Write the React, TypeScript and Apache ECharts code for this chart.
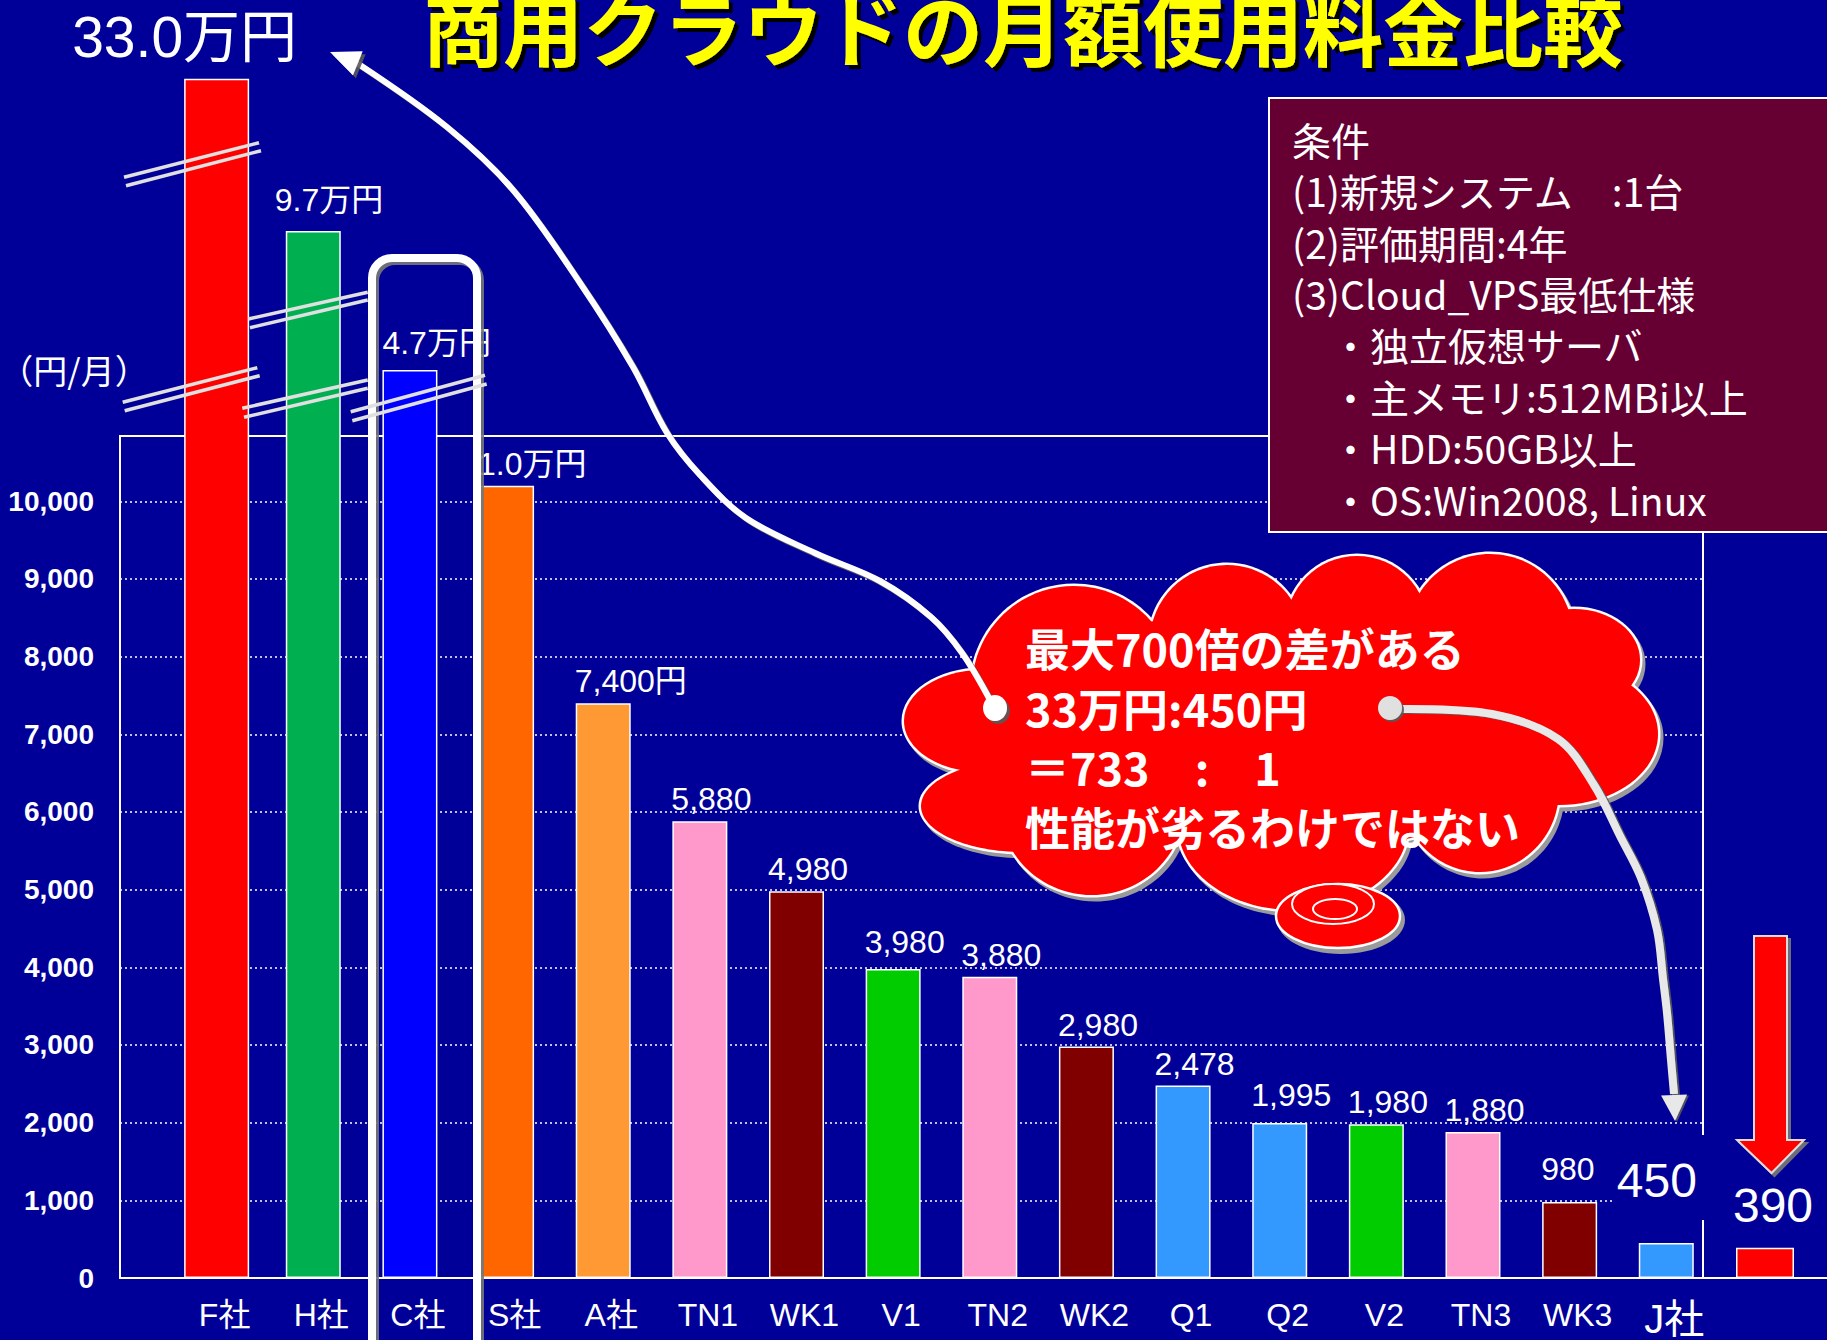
import React, { useEffect, useRef } from 'react';
import * as echarts from 'echarts';

// ---------------- data ----------------
const chartTitle = '商用クラウドの月額使用料金比較';
const categories = ['F社', 'H社', 'C社', 'S社', 'A社', 'TN1', 'WK1', 'V1', 'TN2', 'WK2', 'Q1', 'Q2', 'V2', 'TN3', 'WK3', 'J社'];
const monthlyFeeYen = [330000, 97000, 47000, 10200, 7400, 5880, 4980, 3980, 3880, 2980, 2478, 1995, 1980, 1880, 980, 450];
const valueLabels = ['33.0万円', '9.7万円', '4.7万円', '1.0万円', '7,400円', '5,880', '4,980', '3,980', '3,880', '2,980', '2,478', '1,995', '1,980', '1,880', '980', '450'];
// broken axis: the first three bars are drawn at these heights on the 0-10,000 scale
const brokenBarHeights = [15440, 13480, 11690];
const extraBarValue = 390;
const extraBarLabel = '390';
const yTickValues = [0, 1000, 2000, 3000, 4000, 5000, 6000, 7000, 8000, 9000, 10000];
const yAxisMax = 10841;
const yAxisName = '（円/月）';
const conditionLines = ['条件', '(1)新規システム　:1台', '(2)評価期間:4年', '(3)Cloud_VPS最低仕様', '　・独立仮想サーバ', '　・主メモリ:512MBi以上', '　・HDD:50GB以上', '　・OS:Win2008, Linux'];
const cloudLines = ['最大700倍の差がある', '33万円:450円', '＝733　:　1', '性能が劣るわけではない'];

// ---------------- styles ----------------
const barColors = ['#ff0000', '#00b050', '#0000ff', '#ff6600', '#ff9933', '#ff99cc', '#800000', '#00cc00', '#ff99cc', '#800000', '#3399ff', '#3399ff', '#00cc00', '#ff99cc', '#800000', '#3399ff'];
const extraBarColor = '#ff0000';
const BG = '#000099';
const LATIN = "'Liberation Sans', 'Noto Sans CJK JP', sans-serif";
const CJK = "'Noto Sans CJK JP', sans-serif";

const labelTweaks: Record<number, any> = {
  0: { position: [-112, -13], fontSize: 57 },
  1: { position: [-11, -15] },
  2: { position: [0, -11] },
  7: { position: [-1, -11] },
  11: { position: [-1, -12] },
  14: { position: [-1, -17] },
  15: { position: [-25, -23], fontSize: 48, backgroundColor: BG, padding: [21, 13, 16, 3] },
};

// cloud lobes [cx, cy, rx, ry]
const cloudLobes = [
  [982, 721, 78, 51],
  [1023, 806, 102, 46],
  [1074, 688, 102, 102],
  [1227, 642, 77, 77],
  [1357, 627, 71, 71],
  [1490, 637, 83, 83],
  [1574, 660, 66, 51],
  [1559, 734, 99, 71],
  [1480, 790, 79, 82],
  [1293, 826, 115, 84],
  [1092, 806, 92, 89],
  [1280, 730, 300, 120],
];

function arrowHead(tip: number[], from: number[], len: number, hw: number) {
  const dx = tip[0] - from[0];
  const dy = tip[1] - from[1];
  const L = Math.hypot(dx, dy);
  const ux = dx / L;
  const uy = dy / L;
  const bx = tip[0] - ux * len;
  const by = tip[1] - uy * len;
  return [[tip[0], tip[1]], [bx - uy * hw, by + ux * hw], [bx + uy * hw, by - ux * hw]];
}

function drawnHeight(i: number) {
  return i < brokenBarHeights.length ? brokenBarHeights[i] : monthlyFeeYen[i];
}

function buildGraphics() {
  const g: any[] = [];
  const ell = (cx: number, cy: number, rx: number, ry: number, style: any, z: number) => ({
    type: 'ellipse', z, silent: true, shape: { cx, cy, rx, ry }, style,
  });
  const shadow = { shadowColor: 'rgba(40,40,40,0.85)', shadowOffsetX: 3, shadowOffsetY: 3, shadowBlur: 1 };

  // title with black drop shadow
  g.push({
    type: 'text', z: 31, silent: true,
    style: {
      text: chartTitle, x: 1023, y: 25, fill: '#ffff00', font: `bold 80px ${CJK}`,
      textAlign: 'center', textVerticalAlign: 'middle',
      textShadowColor: '#000000', textShadowOffsetX: 4, textShadowOffsetY: 4, textShadowBlur: 1,
    },
  });

  // y-axis unit
  g.push({ type: 'text', z: 5, silent: true, style: { text: yAxisName, x: 74, y: 369, fill: '#ffffff', font: `34px ${CJK}`, textAlign: 'center', textVerticalAlign: 'middle' } });

  // conditions box
  g.push({ type: 'rect', z: 25, silent: true, shape: { x: 1269, y: 98, width: 600, height: 434 }, style: { fill: '#660033', stroke: '#ffffff', lineWidth: 2 } });
  g.push({
    type: 'text', z: 26, silent: true,
    style: { text: conditionLines.join('\n'), x: 1292, y: 113, fill: '#ffffff', font: `39px ${CJK}`, lineHeight: 51.4, textAlign: 'left', textVerticalAlign: 'top' },
  });

  // cloud: shadow, outline, fill
  cloudLobes.forEach(([cx, cy, rx, ry]) => g.push(ell(cx + 3, cy + 4, rx + 2.5, ry + 2.5, { fill: '#9a9a9a' }, 9)));
  cloudLobes.forEach(([cx, cy, rx, ry]) => g.push(ell(cx, cy, rx + 2.5, ry + 2.5, { fill: '#ffffff' }, 10)));
  cloudLobes.forEach(([cx, cy, rx, ry]) => g.push(ell(cx, cy, rx, ry, { fill: '#ff0000' }, 11)));
  // thought bubble
  g.push(ell(1341, 920, 64, 34, { fill: '#9a9a9a' }, 12));
  g.push(ell(1338, 916, 62, 32, { fill: '#ff0000', stroke: '#ffffff', lineWidth: 2.5 }, 13));
  g.push(ell(1333, 904, 41, 20, { fill: '#ff0000', stroke: '#ffffff', lineWidth: 2 }, 14));
  g.push(ell(1335, 909, 22, 10, { fill: '#ff0000', stroke: '#ffffff', lineWidth: 2 }, 15));
  g.push({
    type: 'text', z: 17, silent: true,
    style: { text: cloudLines.join('\n'), x: 1025, y: 618, fill: '#ffffff', font: `bold 45px ${CJK}`, lineHeight: 59.5, textAlign: 'left', textVerticalAlign: 'top' },
  });

  // rounded frame around C社
  g.push({ type: 'rect', z: 18, silent: true, shape: { x: 372, y: 258, width: 105, height: 1200, r: 20 }, style: { fill: 'none', stroke: '#ffffff', lineWidth: 8, ...shadow, shadowColor: 'rgba(120,120,120,0.9)' } });

  // broken-axis marks
  const breaks = [
    [124, 177.3, 259, 142.7], [126, 185.7, 261, 150.7],
    [122.7, 402.3, 257.3, 367.7], [124.7, 410.7, 259.7, 375.7],
    [248.3, 319, 367.7, 292.3], [250, 327.7, 367.7, 300],
    [242.3, 408.3, 367.7, 380], [244, 417.3, 367.7, 388.3],
    [350.7, 411.7, 485, 375.3], [352.3, 420.7, 486.7, 384],
  ];
  breaks.forEach(([x1, y1, x2, y2]) => g.push({ type: 'line', z: 19, silent: true, shape: { x1, y1, x2, y2 }, style: { stroke: '#e0e0e0', lineWidth: 3.5 } }));

  // white arrow: cloud -> 33.0万円
  const whitePts = [[357, 63], [447, 127], [513, 190], [580, 283], [633, 367], [667, 433], [700, 475], [746, 518], [815, 553], [880, 581], [931, 617], [962, 653], [990, 700]];
  g.push({ type: 'polyline', z: 20, silent: true, shape: { points: whitePts, smooth: 0.35 }, style: { stroke: '#ffffff', fill: 'none', lineWidth: 6, shadowColor: 'rgba(90,90,90,0.9)', shadowOffsetX: 2, shadowOffsetY: 2, shadowBlur: 1 } });
  g.push({ type: 'polygon', z: 20, silent: true, shape: { points: arrowHead([330, 52], [357, 63], 30, 13) }, style: { fill: '#ffffff', ...shadow, shadowColor: 'rgba(90,90,90,0.9)' } });
  g.push(ell(995, 708, 12, 13, { fill: '#ffffff', ...shadow, shadowColor: 'rgba(90,90,90,0.9)' }, 21));

  // gray arrow: cloud -> J社
  const grayPts = [[1398, 709], [1492, 714], [1558, 739], [1594, 785], [1620, 836], [1641, 878], [1657, 930], [1663, 979], [1667, 1013], [1671, 1060], [1674, 1094]];
  g.push({ type: 'polyline', z: 20, silent: true, shape: { points: grayPts, smooth: 0.35 }, style: { stroke: '#e8e8e8', fill: 'none', lineWidth: 8, shadowColor: 'rgba(90,90,90,0.9)', shadowOffsetX: 2, shadowOffsetY: 1, shadowBlur: 1 } });
  g.push({ type: 'polygon', z: 20, silent: true, shape: { points: arrowHead([1675, 1121], [1674, 1094], 26, 13) }, style: { fill: '#e8e8e8', shadowColor: 'rgba(90,90,90,0.9)', shadowOffsetX: 2, shadowOffsetY: 1, shadowBlur: 1 } });
  g.push(ell(1390, 708, 12, 12, { fill: '#e0e0e0', shadowColor: 'rgba(90,90,90,0.9)', shadowOffsetX: 2, shadowOffsetY: 2, shadowBlur: 1 }, 21));

  // red down arrow above the 390 bar
  g.push({ type: 'polygon', z: 20, silent: true, shape: { points: [[1754, 936], [1787, 936], [1787, 1140], [1804, 1140], [1771.5, 1173], [1737, 1140], [1754, 1140]] }, style: { fill: '#ff0000', stroke: '#dddddd', lineWidth: 2, shadowColor: 'rgba(120,120,120,0.9)', shadowOffsetX: 3, shadowOffsetY: 3, shadowBlur: 1 } });
  return g;
}

function buildOption() {
  const labelBase = {
    show: true,
    position: [-1, -6],
    align: 'left',
    verticalAlign: 'bottom',
    color: '#ffffff',
    fontSize: 32,
    fontFamily: LATIN,
    formatter: (p: any) => p.data.txt,
  };
  const item = (i: number) => ({
    value: [i, drawnHeight(i)],
    txt: valueLabels[i],
    itemStyle: { color: barColors[i] },
    label: labelTweaks[i] || {},
  });
  const mainIdx = categories.map((_, i) => i).filter((i) => i > 0);

  return {
    animation: false,
    backgroundColor: BG,
    grid: [
      { left: 120, top: 436, width: 1583, height: 842, show: true, borderColor: '#ffffff', borderWidth: 2, backgroundColor: 'transparent', containLabel: false, outerBoundsMode: 'none' },
      { left: 1703, top: 436, width: 124, height: 842, show: false, containLabel: false, outerBoundsMode: 'none' },
    ],
    xAxis: [
      {
        type: 'value', gridIndex: 0, min: -1, max: 15.38,
        axisLine: { show: false }, axisTick: { show: false }, splitLine: { show: false },
        axisLabel: {
          customValues: categories.map((_, i) => i),
          formatter: (v: number) => {
            const i = Math.round(v);
            const c = categories[i] ?? '';
            return i === categories.length - 1 ? `{big|${c}}` : c;
          },
          rich: { big: { fontSize: 40, color: '#ffffff', fontFamily: LATIN } },
          color: '#ffffff', fontSize: 32, fontFamily: LATIN, margin: 21, padding: [0, 0, 0, 16],
        },
      },
      { type: 'value', gridIndex: 0, min: -1, max: 15.38, show: false, splitLine: { show: false } },
      { type: 'category', gridIndex: 1, data: [''], axisLine: { show: true, lineStyle: { color: '#ffffff', width: 2 } }, axisTick: { show: false }, axisLabel: { show: false } },
    ],
    yAxis: [
      {
        type: 'value', gridIndex: 0, min: 0, max: yAxisMax, interval: 1000, position: 'left',
        axisLine: { show: false },
        axisTick: { show: true, length: 19, customValues: yTickValues, lineStyle: { color: '#ffffff', width: 2 } },
        axisLabel: {
          customValues: yTickValues,
          formatter: (v: number) => Number(v).toLocaleString('en-US'),
          color: '#ffffff', fontSize: 28, fontWeight: 'bold', fontFamily: LATIN, margin: 26, padding: [14, 0, 0, 0],
        },
        splitLine: { show: true, lineStyle: { color: '#ffffff', width: 1.5, type: [2, 3] } },
      },
      {
        type: 'value', gridIndex: 0, min: 0, max: yAxisMax, interval: 1000, position: 'left',
        axisLine: { show: false },
        axisTick: { show: true, inside: true, length: 10, customValues: yTickValues, lineStyle: { color: '#ffffff', width: 2 } },
        axisLabel: { show: false }, splitLine: { show: false },
      },
      { type: 'value', gridIndex: 1, min: 0, max: yAxisMax, show: false, splitLine: { show: false } },
    ],
    series: [
      {
        type: 'bar', xAxisIndex: 1, yAxisIndex: 0, barWidth: 65, clip: false,
        itemStyle: { borderColor: '#ffffff', borderWidth: 1.5 },
        label: labelBase,
        data: [item(0)],
      },
      {
        type: 'bar', xAxisIndex: 0, yAxisIndex: 0, barWidth: 55, clip: false,
        itemStyle: { borderColor: '#ffffff', borderWidth: 1.5 },
        label: labelBase,
        data: mainIdx.map(item),
      },
      {
        type: 'bar', xAxisIndex: 2, yAxisIndex: 2, barWidth: 58, clip: false,
        itemStyle: { borderColor: '#ffffff', borderWidth: 1.5 },
        label: { show: true, position: 'top', distance: 18, offset: [8, 0], color: '#ffffff', fontSize: 48, fontFamily: LATIN, formatter: () => extraBarLabel },
        data: [{ value: extraBarValue, itemStyle: { color: extraBarColor } }],
      },
    ],
    graphic: { elements: buildGraphics() },
  };
}

export default function App() {
  const ref = useRef<HTMLDivElement>(null);
  useEffect(() => {
    document.body.style.margin = '0';
    const chart = echarts.init(ref.current as HTMLDivElement, null, { renderer: 'svg' });
    chart.setOption(buildOption() as any);
    return () => chart.dispose();
  }, []);
  return <div ref={ref} style={{ width: 1827, height: 1340 }} />;
}
